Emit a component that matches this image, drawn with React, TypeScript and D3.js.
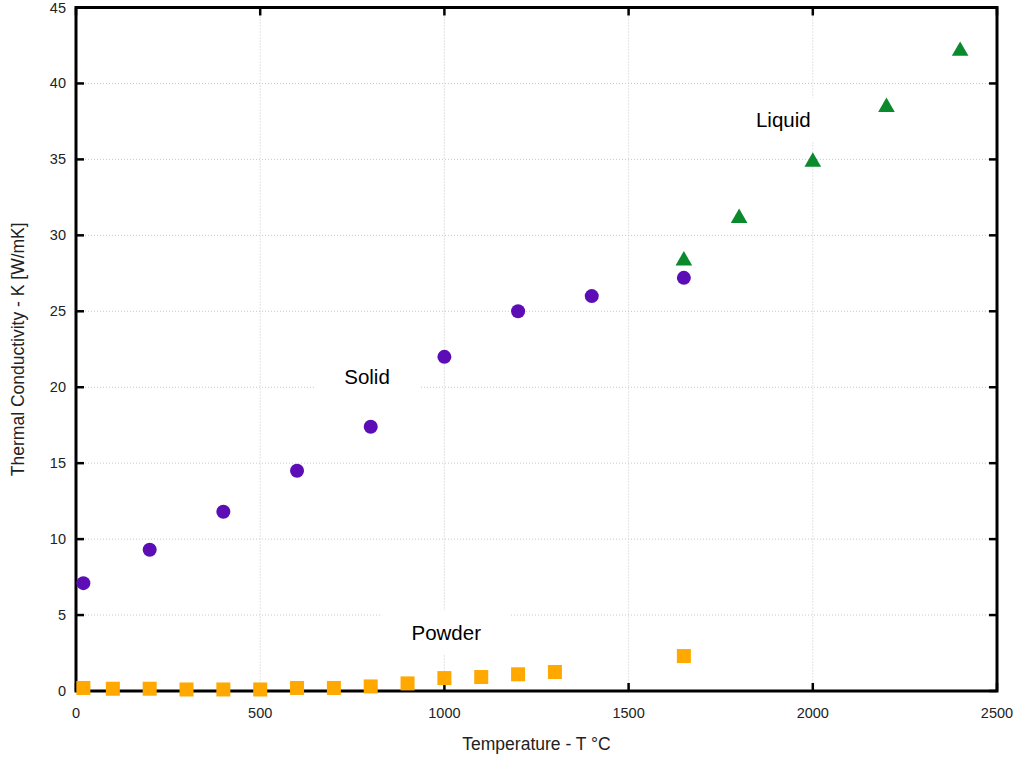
import React from "react";
import * as d3 from "d3";

const solidT = [20, 200, 400, 600, 800, 1000, 1200, 1400, 1650];
const solidK = [7.1, 9.3, 11.8, 14.5, 17.4, 22.0, 25.0, 26.0, 27.2];
const liquidT = [1650, 1800, 2000, 2200, 2400];
const liquidK = [28.5, 31.3, 35.0, 38.6, 42.3];
const powderT = [20, 100, 200, 300, 400, 500, 600, 700, 800, 900, 1000, 1100, 1200, 1300, 1650];
const powderK = [0.2, 0.15, 0.15, 0.1, 0.1, 0.1, 0.2, 0.2, 0.3, 0.5, 0.85, 0.92, 1.1, 1.25, 2.3];
const xTicks = [0, 500, 1000, 1500, 2000, 2500];
const yTicks = [0, 5, 10, 15, 20, 25, 30, 35, 40, 45];
const labels = [
  { text: "Solid", t: 790, k: 20.7 },
  { text: "Powder", t: 1005, k: 3.85 },
  { text: "Liquid", t: 1920, k: 37.6 },
];

const W = 1019, H = 758;
const L = 76, R = 997, T = 7.5, B = 691;

export default function App() {
  const x = d3.scaleLinear().domain([0, 2500]).range([L, R]);
  const y = d3.scaleLinear().domain([0, 45]).range([B, T]);
  const font = "'Liberation Sans', Arial, sans-serif";
  const tri = d3.symbol().type(d3.symbolTriangle).size(120)();
  const tick = 8;
  return (
    <svg width={W} height={H} style={{ position: "absolute", left: 0, top: 0, background: "#fff" }}
      fontFamily={font}>
      {/* grid */}
      {xTicks.slice(1, -1).map((v) => (
        <line key={"gx" + v} x1={x(v)} x2={x(v)} y1={T} y2={B} stroke="#c8c8c8" strokeWidth={1} strokeDasharray="1,2" />
      ))}
      {yTicks.slice(1, -1).map((v) => (
        <line key={"gy" + v} x1={L} x2={R} y1={y(v)} y2={y(v)} stroke="#c8c8c8" strokeWidth={1} strokeDasharray="1,2" />
      ))}
      {/* label boxes */}
      {labels.map((l) => {
        const w = l.text === "Powder" ? 128 : l.text === "Solid" ? 104 : 76;
        return (
          <g key={l.text}>
            <rect x={x(l.t) - w / 2} y={y(l.k) - 22} width={w} height={44} fill="#fff" />
            <text x={x(l.t)} y={y(l.k) + 7} textAnchor="middle" fontSize={20.5} fill="#000">{l.text}</text>
          </g>
        );
      })}
      {/* ticks */}
      {xTicks.map((v) => (
        <g key={"tx" + v}>
          <line x1={x(v)} x2={x(v)} y1={B} y2={B - tick} stroke="#000" strokeWidth={2.5} />
          <line x1={x(v)} x2={x(v)} y1={T} y2={T + tick} stroke="#000" strokeWidth={2.5} />
          <text x={x(v)} y={B + 27} textAnchor="middle" fontSize={14.5} fill="#222">{v}</text>
        </g>
      ))}
      {yTicks.map((v) => (
        <g key={"ty" + v}>
          <line x1={L} x2={L + tick} y1={y(v)} y2={y(v)} stroke="#000" strokeWidth={2.5} />
          <line x1={R} x2={R - tick} y1={y(v)} y2={y(v)} stroke="#000" strokeWidth={2.5} />
          <text x={L - 10} y={y(v) + 5} textAnchor="end" fontSize={14.5} fill="#222">{v}</text>
        </g>
      ))}
      {/* frame */}
      <rect x={L} y={T} width={R - L} height={B - T} fill="none" stroke="#000" strokeWidth={3} />
      {/* data */}
      {powderT.map((t, i) => (
        <rect key={"p" + i} x={x(t) - 7} y={y(powderK[i]) - 7} width={14} height={14} fill="#ffa800" />
      ))}
      {solidT.map((t, i) => (
        <circle key={"s" + i} cx={x(t)} cy={y(solidK[i])} r={7} fill="#5c0db5" />
      ))}
      {liquidT.map((t, i) => (
        <path key={"l" + i} d={tri} transform={`translate(${x(t)},${y(liquidK[i]) + 2.5})`} fill="#0a8a2c" />
      ))}
      {/* axis titles */}
      <text x={(L + R) / 2} y={750} textAnchor="middle" fontSize={17.5} fill="#222">Temperature - T °C</text>
      <text transform={`translate(24,${(T + B) / 2}) rotate(-90)`} textAnchor="middle" fontSize={17.5} fill="#222">
        Thermal Conductivity - K [W/mK]
      </text>
    </svg>
  );
}
